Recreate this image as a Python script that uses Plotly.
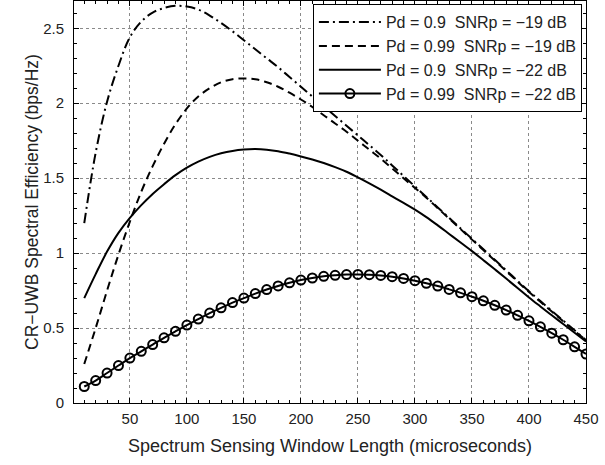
import plotly.graph_objects as go

# sensing window length (microseconds)
window = [10, 20, 30, 40, 50, 60, 70, 80, 90, 100,
          110, 120, 130, 140, 150, 160, 170, 180, 190, 200,
          210, 220, 230, 240, 250, 260, 270, 280, 290, 300,
          310, 320, 330, 340, 350, 360, 370, 380, 390, 400,
          410, 420, 430, 440, 450]

# spectral efficiency (bps/Hz)
pd09_snr19 = [1.20, 1.67, 2.01, 2.25, 2.44, 2.545, 2.605, 2.635, 2.65, 2.645,
              2.625, 2.585, 2.535, 2.48, 2.42, 2.36, 2.30, 2.24, 2.175, 2.11,
              2.045, 1.98, 1.915, 1.85, 1.785, 1.72, 1.655, 1.585, 1.515, 1.445,
              1.375, 1.305, 1.235, 1.165, 1.095, 1.025, 0.955, 0.885, 0.815, 0.745,
              0.68, 0.615, 0.55, 0.485, 0.42]

pd099_snr19 = [0.26, 0.50, 0.75, 0.99, 1.21, 1.41, 1.58, 1.73, 1.86, 1.965,
               2.045, 2.10, 2.14, 2.16, 2.165, 2.16, 2.14, 2.11, 2.07, 2.025,
               1.975, 1.92, 1.865, 1.81, 1.75, 1.69, 1.63, 1.565, 1.50, 1.435,
               1.37, 1.30, 1.23, 1.16, 1.09, 1.02, 0.95, 0.88, 0.81, 0.74,
               0.675, 0.61, 0.545, 0.48, 0.42]

pd09_snr22 = [0.70, 0.86, 1.01, 1.135, 1.235, 1.32, 1.395, 1.46, 1.52, 1.57,
              1.61, 1.642, 1.666, 1.682, 1.691, 1.694, 1.69, 1.68, 1.664, 1.645,
              1.624, 1.601, 1.574, 1.543, 1.505, 1.465, 1.423, 1.379, 1.335, 1.29,
              1.24, 1.185, 1.128, 1.071, 1.013, 0.953, 0.892, 0.83, 0.767, 0.704,
              0.644, 0.585, 0.527, 0.469, 0.41]

pd099_snr22 = [0.11, 0.15, 0.20, 0.25, 0.30, 0.345, 0.39, 0.435, 0.478, 0.52,
               0.56, 0.60, 0.635, 0.67, 0.70, 0.73, 0.757, 0.781, 0.802, 0.82,
               0.834, 0.845, 0.852, 0.857, 0.858, 0.856, 0.851, 0.843, 0.831, 0.816,
               0.799, 0.78, 0.758, 0.735, 0.709, 0.682, 0.652, 0.62, 0.585, 0.548,
               0.508, 0.466, 0.422, 0.375, 0.327]

names = ["Pd = 0.9  SNRp = \u221219 dB",
         "Pd = 0.99  SNRp = \u221219 dB",
         "Pd = 0.9  SNRp = \u221222 dB",
         "Pd = 0.99  SNRp = \u221222 dB"]

x_ticks = [50, 100, 150, 200, 250, 300, 350, 400, 450]
y_ticks = [0, 0.5, 1, 1.5, 2, 2.5]
y_labels = ["0", "0.5", "1", "1.5", "2", "2.5"]

fig = go.Figure()

# dash-dot
fig.add_trace(go.Scatter(x=window, y=pd09_snr19, mode="lines", name=names[0],
                         line=dict(color="black", width=2, dash="10px,4px,2px,4px", shape="spline")))
# dashed
fig.add_trace(go.Scatter(x=window, y=pd099_snr19, mode="lines", name=names[1],
                         line=dict(color="black", width=2, dash="8px,5px", shape="spline")))
# solid
fig.add_trace(go.Scatter(x=window, y=pd09_snr22, mode="lines", name=names[2],
                         line=dict(color="black", width=2, shape="spline")))
# solid + circles
fig.add_trace(go.Scatter(x=window, y=pd099_snr22, mode="lines+markers", name=names[3],
                         line=dict(color="black", width=2, shape="spline"),
                         marker=dict(symbol="circle-open", size=9, color="black",
                                     line=dict(width=2, color="black"))))

axis_common = dict(
    showline=True, linecolor="black", linewidth=1, mirror="ticks",
    ticks="inside", ticklen=5, tickcolor="black",
    showgrid=True, gridcolor="#8a8a8a", griddash="dot", gridwidth=1,
    zeroline=False, automargin=False,
    tickfont=dict(size=15, color="#222"),
)

fig.update_xaxes(range=[1, 450], tickvals=x_ticks, ticklabelstandoff=2,
                 title=dict(text="Spectrum Sensing Window Length (microseconds)",
                            font=dict(size=18, color="#222"), standoff=13),
                 minor=dict(ticks="inside", ticklen=3, dtick=10, tick0=0, tickcolor="black", showgrid=False),
                 **axis_common)
fig.update_yaxes(range=[0, 2.682], tickvals=y_ticks, ticktext=y_labels, ticklabelstandoff=6,
                 title=dict(text="CR\u2212UWB Spectral Efficiency (bps/Hz)",
                            font=dict(size=17.5, color="#222"), standoff=0),
                 minor=dict(ticks="inside", ticklen=3, dtick=0.1, tick0=0, tickcolor="black", showgrid=False),
                 **axis_common)

fig.update_layout(
    width=605, height=465,
    margin=dict(l=74, r=19, t=1, b=62),
    paper_bgcolor="white", plot_bgcolor="white",
    font=dict(family="Liberation Sans, Arial, sans-serif", color="#222"),
    legend=dict(x=0.992, y=0.992, xanchor="right", yanchor="top",
                bgcolor="white", bordercolor="black", borderwidth=1,
                itemwidth=62,
                font=dict(size=16, color="#222"), tracegroupgap=0),
    showlegend=True,
)

# page margin off so the figure sits at the window's top-left corner
fig.write_html("out.html", config={"displayModeBar": False},
               post_script="document.body.style.margin='0px';")
